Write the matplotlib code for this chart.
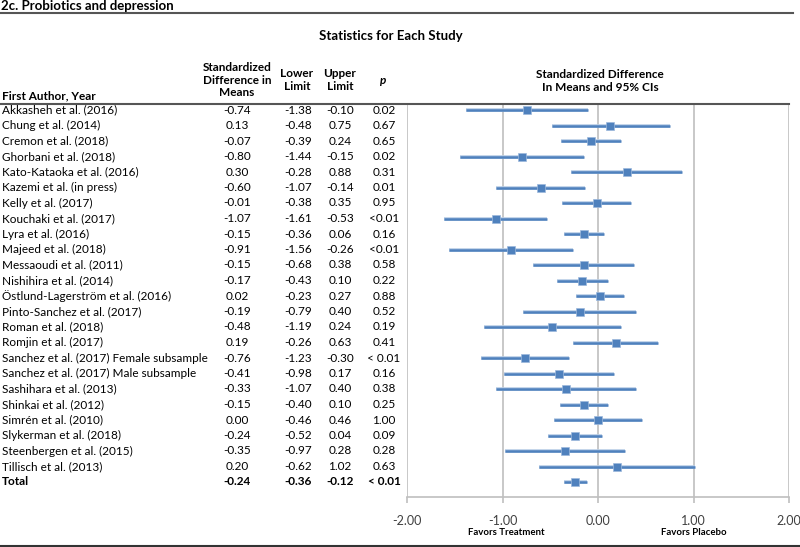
import matplotlib.pyplot as plt
from matplotlib.transforms import blended_transform_factory
from matplotlib.lines import Line2D

plt.rcParams['font.family'] = ['Lato', 'DejaVu Sans']

# Study data
studies = ['Akkasheh et al. (2016)', 'Chung et al. (2014)', 'Cremon et al. (2018)',
           'Ghorbani et al. (2018)', 'Kato-Kataoka et al. (2016)', 'Kazemi et al. (in press)',
           'Kelly et al. (2017)', 'Kouchaki et al. (2017)', 'Lyra et al. (2016)',
           'Majeed et al. (2018)', 'Messaoudi et al. (2011)', 'Nishihira et al. (2014)',
           'Östlund-Lagerström et al. (2016)', 'Pinto-Sanchez et al. (2017)', 'Roman et al. (2018)',
           'Romjin et al. (2017)', 'Sanchez et al. (2017) Female subsample',
           'Sanchez et al. (2017) Male subsample', 'Sashihara et al. (2013)',
           'Shinkai et al. (2012)', 'Simrén et al. (2010)', 'Slykerman et al. (2018)',
           'Steenbergen et al. (2015)', 'Tillisch et al. (2013)', 'Total']
smd = [-0.74, 0.13, -0.07, -0.80, 0.30, -0.60, -0.01, -1.07, -0.15, -0.91, -0.15, -0.17,
       0.02, -0.19, -0.48, 0.19, -0.76, -0.41, -0.33, -0.15, 0.00, -0.24, -0.35, 0.20, -0.24]
lower = [-1.38, -0.48, -0.39, -1.44, -0.28, -1.07, -0.38, -1.61, -0.36, -1.56, -0.68, -0.43,
         -0.23, -0.79, -1.19, -0.26, -1.23, -0.98, -1.07, -0.40, -0.46, -0.52, -0.97, -0.62, -0.36]
upper = [-0.10, 0.75, 0.24, -0.15, 0.88, -0.14, 0.35, -0.53, 0.06, -0.26, 0.38, 0.10,
         0.27, 0.40, 0.24, 0.63, -0.30, 0.17, 0.40, 0.10, 0.46, 0.04, 0.28, 1.02, -0.12]
pvals = ['0.02', '0.67', '0.65', '0.02', '0.31', '0.01', '0.95', '<0.01', '0.16', '<0.01',
         '0.58', '0.22', '0.88', '0.52', '0.19', '0.41', '< 0.01', '0.16', '0.38', '0.25',
         '1.00', '0.09', '0.28', '0.63', '< 0.01']
xticks = [-2.0, -1.0, 0.0, 1.0, 2.0]

W, H = 800, 547
fig = plt.figure(figsize=(W / 100, H / 100), dpi=100)

def fy(px):
    return 1 - px / H

# forest plot axes, placed by pixel
left, right, top, bottom = 407, 789, 104, 497
ax = fig.add_axes([left / W, fy(bottom), (right - left) / W, (bottom - top) / H])
n = len(studies)
row_px = 15.5
first_px = 110
ax.set_ylim((bottom - first_px) / row_px, (top - first_px) / row_px)
ax.set_xlim(-2, 2)

blue = '#4F81BD'
for i in range(n):
    ax.plot([lower[i], upper[i]], [i, i], color='#B8CDE6', lw=2.6, solid_capstyle='butt', zorder=2)
    ax.plot([lower[i], upper[i]], [i, i], color=blue, lw=1.8, solid_capstyle='butt', zorder=3)
ax.plot(smd, range(n), 's', color=blue, markersize=6.4, markeredgecolor='#9DB9DC',
        markeredgewidth=0.5, zorder=4)

for x in xticks:
    ax.axvline(x, color='#BFBFBF', lw=1.2, zorder=1)
for s in ['top', 'left', 'right']:
    ax.spines[s].set_visible(False)
ax.spines['bottom'].set_color('#BFBFBF')
ax.spines['bottom'].set_linewidth(1.2)
ax.set_yticks([])
ax.set_xticks(xticks)
ax.set_xticklabels(['%.2f' % x for x in xticks], fontsize=9, color='#404040')
ax.tick_params(axis='x', length=4, width=1.2, color='#BFBFBF', pad=9)
ax.set_facecolor('none')

bt = blended_transform_factory(ax.transData, ax.transAxes)
ax.text(-0.96, -0.09, 'Favors Treatment', transform=bt, ha='center', va='center',
        fontsize=6.9, fontweight='bold')
ax.text(1.0, -0.09, 'Favors Placebo', transform=bt, ha='center', va='center',
        fontsize=6.9, fontweight='bold')

# table columns
tr = blended_transform_factory(fig.transFigure, ax.transData)
fs = 8.5
for i in range(n):
    w = 'bold' if studies[i] == 'Total' else 'normal'
    fig.text(2 / W, i, studies[i], transform=tr, ha='left', va='center', fontsize=fs, fontweight=w)
    fig.text(237 / W, i, '%.2f' % smd[i], transform=tr, ha='center', va='center', fontsize=fs, fontweight=w)
    fig.text(298 / W, i, '%.2f' % lower[i], transform=tr, ha='center', va='center', fontsize=fs, fontweight=w)
    fig.text(340 / W, i, '%.2f' % upper[i], transform=tr, ha='center', va='center', fontsize=fs, fontweight=w)
    fig.text(384 / W, i, pvals[i], transform=tr, ha='center', va='center', fontsize=fs, fontweight=w)

# headers
fig.text(1 / W, fy(6), '2c. Probiotics and depression', ha='left', va='center', fontsize=9.5, fontweight='bold')
fig.text(391 / W, fy(36), 'Statistics for Each Study', ha='center', va='center', fontsize=9.5, fontweight='bold')
fig.text(237 / W, fy(80), 'Standardized\nDifference in\nMeans', ha='center', va='center',
         fontsize=fs, fontweight='bold', linespacing=1.2)
fig.text(297 / W, fy(80), 'Lower\nLimit', ha='center', va='center', fontsize=fs, fontweight='bold', linespacing=1.2)
fig.text(340 / W, fy(80), 'Upper\nLimit', ha='center', va='center', fontsize=fs, fontweight='bold', linespacing=1.2)
fig.text(383 / W, fy(80), 'p', ha='center', va='center', fontsize=fs, fontweight='bold', style='italic')
fig.text(2 / W, fy(96), 'First Author, Year', ha='left', va='center', fontsize=fs, fontweight='bold')
fig.text(600 / W, fy(81), 'Standardized Difference\nIn Means and 95% CIs', ha='center', va='center',
         fontsize=fs, fontweight='bold', linespacing=1.3)

# rule lines
fig.add_artist(Line2D([0, 793 / W], [fy(13), fy(13)], color='#555555', lw=1.5))
fig.add_artist(Line2D([0, 789 / W], [fy(104), fy(104)], color='#555555', lw=1.5))
fig.add_artist(Line2D([0, 1], [fy(546), fy(546)], color='#333333', lw=1.5))

fig.savefig('out.png', dpi=100)
